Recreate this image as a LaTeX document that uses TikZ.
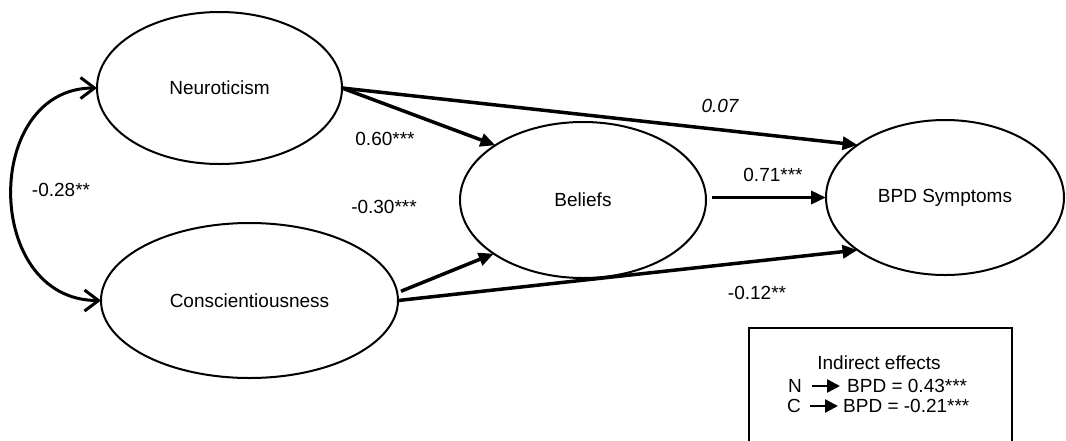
\documentclass[tikz,border=0pt]{standalone}
\usepackage{fontspec}
\setmainfont{Liberation Sans}
\usetikzlibrary{shapes.geometric,arrows.meta}
\begin{document}
\begin{tikzpicture}[x=1pt,y=-1pt,
  font=\fontsize{19pt}{21pt}\selectfont,
  latent/.style={ellipse,draw,line width=2pt,inner sep=0pt,outer sep=0pt},
  effarrow/.style={line width=3.5pt,-{Triangle[length=15pt,width=13pt]}},
  covarrow/.style={line width=3pt,{Straight Barb[length=14pt,width=21pt]}-{Straight Barb[length=14pt,width=21pt]}},
  legarrow/.style={line width=2.5pt,-{Triangle[length=13pt,width=13pt]}},
  legtext/.style={inner sep=0pt}
]
\useasboundingbox[fill=white] (0,0) rectangle (1066,440);

% latent variables
\node[latent,minimum width=245pt,minimum height=152pt] (N) at (219.5,88) {Neuroticism};
\node[latent,minimum width=297pt,minimum height=155pt] (C) at (249.5,300.5) {Conscientiousness};
\node[latent,minimum width=246pt,minimum height=156pt] (B) at (583,200) {Beliefs};
\node[latent,minimum width=238pt,minimum height=155pt] (S) at (945,197.5) {BPD Symptoms};

% paths
\draw[effarrow] (N.east) -- (B.148);
\draw[effarrow] (N.east) -- (S.149);
\draw[effarrow, shorten <=4pt] (C.3) -- (B.211);
\draw[effarrow] (C.east) -- (S.211);
\draw[effarrow, shorten <=6pt] (B.east |- S.west) -- (S.west);

% covariance
\draw[covarrow] (N.west) .. controls +(-115,0) and +(-118,0) .. (C.west);

% coefficients
\node (k1) at (385,139) {0.60***};
\node (k2) at (384,207) {-0.30***};
\node (k3) at (720,106) {\itshape 0.07};
\node (k4) at (773,175) {0.71***};
\node (k5) at (757,293) {-0.12**};
\node (k6) at (61,190) {-0.28**};

% legend
\draw[line width=2.5pt] (749,442) -- (749,328) -- (1012,328) -- (1012,442);
\node (leg) at (879,363) {Indirect effects};
\node[legtext,anchor=east] (lN) at (802,386) {N};
\node[legtext,anchor=west] (lNv) at (847,386) {BPD = 0.43***};
\draw[legarrow, shorten <=10pt, shorten >=7pt] (lN.east) -- (lNv.west);
\node[legtext,anchor=east] (lC) at (801,406) {C};
\node[legtext,anchor=west] (lCv) at (843,406) {BPD = -0.21***};
\draw[legarrow, shorten <=9pt, shorten >=5pt] (lC.east) -- (lCv.west);
\end{tikzpicture}
\end{document}
